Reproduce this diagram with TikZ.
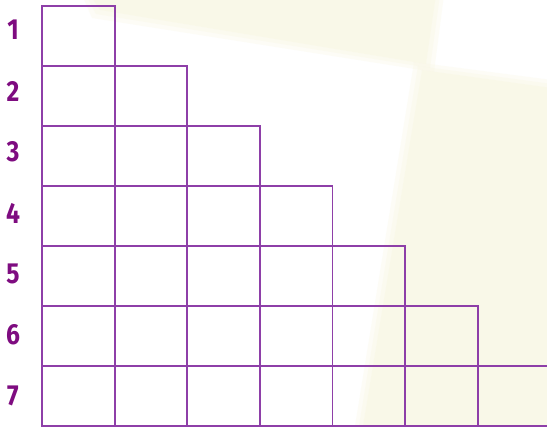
\documentclass[tikz,border=0pt]{standalone}
\usepackage{fontspec}
\setmainfont{Fira Sans}
\definecolor{gridpurple}{HTML}{8E3FA8}
\definecolor{numpurple}{HTML}{7E0C80}
\definecolor{beige}{HTML}{F9F7E3}
\begin{document}
\begin{tikzpicture}[x=1pt,y=-1pt,
  cell/.style={draw=gridpurple,line width=1.8pt},
  rowlabel/.style={text=numpurple,font=\fontsize{29}{29}\selectfont\bfseries,inner sep=0pt,anchor=center}]
\useasboundingbox (0,0) rectangle (547,427);
\fill[white] (0,0) rectangle (547,427);
% soft beige background shapes
\foreach \o/\s in {0.3/8,0.35/4,0.5/0}{
  \fill[beige,opacity=\o] (90-\s,-5) -- (436+\s,-5) -- (426+\s,64+\s) -- (100-\s,10+\s) -- cycle;
  \fill[beige,opacity=\o] (422-\s,70-\s) -- (552,88-\s) -- (552,432) -- (362-\s,432) -- cycle;
}
% grid
\foreach \r in {1,...,7}{
  \foreach \c in {1,...,\r}{
    \pgfmathsetmacro{\xa}{42+72.6*(\c-1)}
    \pgfmathsetmacro{\ya}{6+60*(\r-1)}
    \draw[cell] (\xa,\ya) rectangle ++(72.6,60);
  }
}
% row labels
\foreach \r in {1,...,7}{
  \node[rowlabel] (lab\r) at (13,{30+61*(\r-1)}) {\scalebox{0.85}[1]{\r}};
}
\end{tikzpicture}
\end{document}
